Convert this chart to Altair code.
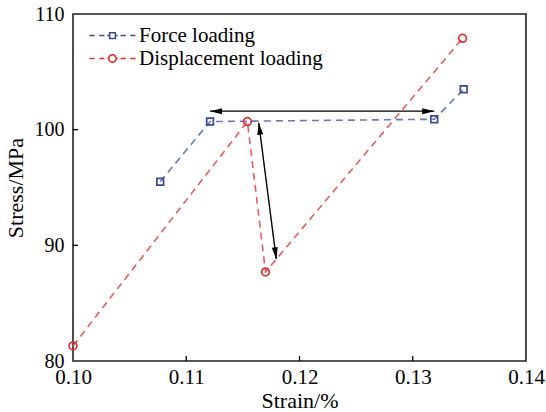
import altair as alt
import pandas as pd

# ---- data ----
series_names = ["Force loading", "Displacement loading"]
force_strain = [0.1077, 0.1121, 0.1319, 0.1345]
force_stress = [95.5, 100.7, 100.9, 103.5]
disp_strain = [0.1000, 0.1154, 0.1170, 0.1344]
disp_stress = [81.3, 100.7, 87.7, 107.9]

# double-headed arrows: start (strain, stress) -> end (strain, stress)
arrow_start_strain = [0.1121, 0.1164]
arrow_start_stress = [101.6, 100.6]
arrow_end_strain = [0.1319, 0.11795]
arrow_end_stress = [101.6, 88.8]

x_ticks = [0.10, 0.11, 0.12, 0.13, 0.14]
y_ticks = [80, 90, 100, 110]

# ---- tables ----
rows = []
for s, xs, ys in [(series_names[0], force_strain, force_stress),
                  (series_names[1], disp_strain, disp_stress)]:
    for i, (a, b) in enumerate(zip(xs, ys)):
        rows.append({"strain": a, "stress": b, "series": s, "order": i})
df = pd.DataFrame(rows)

arrows = pd.DataFrame({
    "strain": arrow_start_strain, "stress": arrow_start_stress,
    "strain2": arrow_end_strain, "stress2": arrow_end_stress,
})
# arrow heads (angles are styling: direction of each head on screen)
head_angles_start = [270, 352.75]
head_angles_end = [90, 172.75]
heads = pd.DataFrame({
    "strain": arrow_start_strain + arrow_end_strain,
    "stress": arrow_start_stress + arrow_end_stress,
    "angle": head_angles_start + head_angles_end,
})

FONT = "Liberation Serif"
W, H = 453, 347

xscale = alt.Scale(domain=[0.10, 0.14], nice=False, zero=False)
yscale = alt.Scale(domain=[80, 110], nice=False, zero=False)
xaxis = alt.Axis(title="Strain/%", values=x_ticks, format=".2f", grid=False,
                 domain=False, ticks=False, labelPadding=5, labelFlush=False,
                 labelOverlap=False, titlePadding=3, labelFontSize=21)
yaxis = alt.Axis(title="Stress/MPa", values=y_ticks, format="d", grid=False,
                 domain=False, ticks=False, labelPadding=9, labelFlush=False,
                 labelOverlap=False, titlePadding=7, labelFontSize=20)


def X(field):
    return alt.X(f"{field}:Q", scale=xscale, axis=xaxis)


def Y(field):
    return alt.Y(f"{field}:Q", scale=yscale, axis=yaxis)


line_colors = ["#6878b8", "#e25e5e"]
mark_colors = ["#3a4896", "#d93030"]

lines = alt.Chart(df).mark_line(strokeDash=[7, 5], strokeWidth=1.6).encode(
    x=X("strain"), y=Y("stress"),
    color=alt.Color("series:N", scale=alt.Scale(domain=series_names, range=line_colors), legend=None),
    detail="series:N", order="order:Q",
)

points = alt.Chart(df).mark_point(filled=False, strokeWidth=1.7, opacity=1).encode(
    x=X("strain"), y=Y("stress"),
    color=alt.Color("series:N", scale=alt.Scale(domain=series_names, range=mark_colors), legend=None),
    shape=alt.Shape("series:N", scale=alt.Scale(domain=series_names, range=["square", "circle"]), legend=None),
    size=alt.Size("series:N", scale=alt.Scale(domain=series_names, range=[45, 60]), legend=None),
)

# legend symbols: dashed line with marker in the middle
sq_path = ("M-2,0H-1.55M-1.15,0H-0.7M-0.45,0H-0.25"
           "M-0.25,-0.25H0.25V0.25H-0.25Z"
           "M0.25,0H0.45M0.7,0H1.15M1.55,0H2")
ci_path = ("M-2,0H-1.55M-1.15,0H-0.7M-0.45,0H-0.32"
           "M0.32,0A0.32,0.32 0 1,1 -0.32,0A0.32,0.32 0 1,1 0.32,0"
           "M0.32,0H0.45M0.7,0H1.15M1.55,0H2")
leg = alt.Legend(title=None, orient="none", legendX=27, legendY=9,
                 labelFont=FONT, labelFontSize=21, labelColor="black", labelLimit=0,
                 symbolSize=529, symbolStrokeWidth=1.5, symbolOpacity=1,
                 symbolFillColor="transparent",
                 labelOffset=14, padding=0, rowPadding=0)
legend_layer = alt.Chart(df).mark_point(opacity=0, filled=False).encode(
    x=X("strain"), y=Y("stress"),
    color=alt.Color("series:N", scale=alt.Scale(domain=series_names, range=mark_colors), legend=leg),
    shape=alt.Shape("series:N", scale=alt.Scale(domain=series_names, range=[sq_path, ci_path]), legend=leg),
)

arrow_lines = alt.Chart(arrows).mark_rule(color="black", strokeWidth=1.4).encode(
    x=X("strain"), y=Y("stress"), x2="strain2:Q", y2="stress2:Q",
)
arrow_heads = alt.Chart(heads).mark_point(
    shape="M0,0L0.25,1L-0.25,1Z", filled=True, color="black", opacity=1, size=576, strokeWidth=0,
).encode(
    x=X("strain"), y=Y("stress"),
    angle=alt.Angle("angle:Q", scale=None),
)

xt = alt.Chart(pd.DataFrame({"strain": x_ticks[1:-1]})).mark_rule(color="black", strokeWidth=1.3).encode(
    x=X("strain"), y=alt.value(H), y2=alt.value(H - 5),
)
yt = alt.Chart(pd.DataFrame({"stress": y_ticks[1:-1]})).mark_rule(color="black", strokeWidth=1.3).encode(
    y=Y("stress"), x=alt.value(0), x2=alt.value(5),
)

chart = alt.layer(lines, points, legend_layer, arrow_lines, arrow_heads, xt, yt).resolve_scale(
    color="independent", shape="independent", size="independent",
).properties(
    width=W, height=H,
    autosize=alt.AutoSizeParams(type="none"),
    padding={"left": 73, "top": 14, "right": 20, "bottom": 51},
    background="white",
).configure_view(
    stroke="#222222", strokeWidth=1.6,
).configure_axis(
    labelFont=FONT, labelColor="black",
    titleFont=FONT, titleFontSize=22, titleColor="black", titleFontWeight="normal",
)

chart.save("out.html", embed_options={"renderer": "svg", "actions": False})
